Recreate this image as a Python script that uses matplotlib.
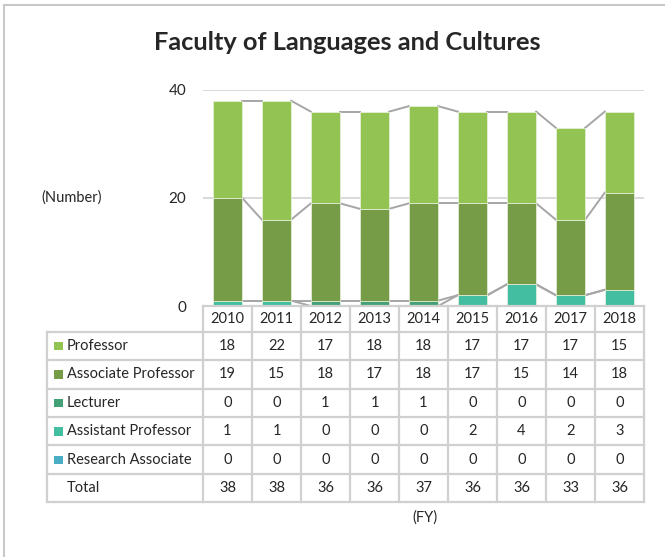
import matplotlib
matplotlib.use('Agg')
import matplotlib.pyplot as plt
from matplotlib.lines import Line2D
from matplotlib.patches import Rectangle
import numpy as np

plt.rcParams['font.family'] = ['Lato', 'DejaVu Sans']

# データ
years = ['2010', '2011', '2012', '2013', '2014', '2015', '2016', '2017', '2018']
professor = [18, 22, 17, 18, 18, 17, 17, 17, 15]
associate = [19, 15, 18, 17, 18, 17, 15, 14, 18]
lecturer = [0, 0, 1, 1, 1, 0, 0, 0, 0]
assistant = [1, 1, 0, 0, 0, 2, 4, 2, 3]
research = [0, 0, 0, 0, 0, 0, 0, 0, 0]
totals = [38, 38, 36, 36, 37, 36, 36, 33, 36]

names = ['Professor', 'Associate Professor', 'Lecturer', 'Assistant Professor', 'Research Associate']
values = [professor, associate, lecturer, assistant, research]
colors = ['#92C353', '#779C48', '#44A077', '#43BEA0', '#4BACC6']

W, H = 665, 557
fig = plt.figure(figsize=(6.65, 5.57), dpi=100)


def fx(px):
    return px / W


def fy(py):
    return 1 - py / H


grid_c = '#D9D9D9'
line_c = '#A6A6A6'
text_c = '#262626'

# 枠
fig.add_artist(Rectangle((fx(4), fy(700)), fx(900), fy(5) - fy(700), transform=fig.transFigure,
                         fill=False, edgecolor='#C8C8C8', lw=1.5))

left, right, top, bottom = 203, 644, 90, 306
ax = fig.add_axes([fx(left), fy(bottom), fx(right) - fx(left), fy(top) - fy(bottom)])

x = np.arange(len(years))
bw = 0.6
base = np.zeros(len(years))
# 積み上げ（下から Research -> Professor）
for name, vals, col in reversed(list(zip(names, values, colors))):
    v = np.array(vals, dtype=float)
    ax.bar(x, v, bw, bottom=base, color=col, edgecolor='#EAF2E0', lw=0.5, zorder=3)
    base = base + v
    # 系列線
    for i in range(len(years) - 1):
        ax.plot([x[i] + bw / 2, x[i + 1] - bw / 2], [base[i], base[i + 1]],
                color=line_c, lw=1.4, zorder=2)

ax.set_xlim(-0.5, len(years) - 0.5)
ax.set_ylim(0, 40)
ax.set_yticks([0, 20, 40])
ax.set_xticks([])
ax.yaxis.grid(True, color=grid_c, lw=1.4, zorder=0)
ax.set_axisbelow(True)
for s in ax.spines.values():
    s.set_visible(False)
ax.tick_params(axis='y', length=0, pad=12, labelsize=11, labelcolor=text_c)

# タイトルなど
fig.text(fx(347), fy(43), 'Faculty of Languages and Cultures', ha='center', va='center',
         fontsize=18.3, fontweight='bold', color=text_c)
fig.text(fx(72), fy(198), '(Number)', ha='center', va='center', fontsize=10.5, color=text_c)
fig.text(fx(425), fy(518), '(FY)', ha='center', va='center', fontsize=10.5, color=text_c)

# データテーブル
tab_c = '#D0D0D0'
col_w = (right - left) / len(years)
rows_y = [331.7, 360.1, 388.5, 416.9, 445.3, 473.7, 502.1]
tl = 47


def hline(y, x0, x1):
    fig.add_artist(Line2D([fx(x0), fx(x1)], [fy(y), fy(y)], color=tab_c, lw=1.6,
                          transform=fig.transFigure))


def vline(xp, y0, y1):
    fig.add_artist(Line2D([fx(xp), fx(xp)], [fy(y0), fy(y1)], color=tab_c, lw=1.6,
                          transform=fig.transFigure))


hline(bottom, left, right)
for y in rows_y:
    hline(y, tl, right)
vline(tl, rows_y[0], rows_y[-1])
for k in range(len(years) + 1):
    vline(left + k * col_w, bottom, rows_y[-1])

for j, yr in enumerate(years):
    fig.text(fx(left + (j + 0.5) * col_w), fy((bottom + rows_y[0]) / 2), yr,
             ha='center', va='center', fontsize=10.5, color=text_c)

row_labels = names + ['Total']
row_vals = values + [totals]
for r, (lab, vals) in enumerate(zip(row_labels, row_vals)):
    yc = (rows_y[r] + rows_y[r + 1]) / 2
    if r < len(names):
        fig.add_artist(Rectangle((fx(54), fy(yc + 4.5)), fx(8.5), fy(0) - fy(8.5),
                                 transform=fig.transFigure, color=colors[r], lw=0))
    fig.text(fx(67), fy(yc), lab, ha='left', va='center', fontsize=10.5, color=text_c)
    for j, v in enumerate(vals):
        fig.text(fx(left + (j + 0.5) * col_w), fy(yc), str(v), ha='center', va='center',
                 fontsize=10.5, color=text_c)

fig.savefig('out.png', dpi=100)
